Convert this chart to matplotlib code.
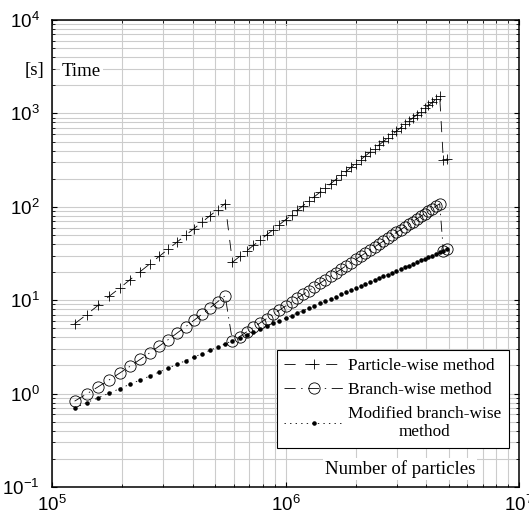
import numpy as np
import matplotlib
matplotlib.use('Agg')
import matplotlib.pyplot as plt
from matplotlib.font_manager import FontProperties

# number of particles (cubic lattices, 50^3 ... 170^3)
N = [125000, 140608, 157464, 175616, 195112, 216000, 238328, 262144, 287496,
     314432, 343000, 373248, 405224, 438976, 474552, 512000, 551368,
     592704, 636056, 681472, 729000, 778688, 830584, 884736, 941192,
     1000000, 1061208, 1124864, 1191016, 1259712, 1331000, 1404928, 1481544,
     1560896, 1643032, 1728000, 1815848, 1906624, 2000376, 2097152, 2197000,
     2299968, 2406104, 2515456, 2628072, 2744000, 2863288, 2985984, 3112136,
     3241792, 3375000, 3511808, 3652264, 3796416, 3944312, 4096000, 4251528,
     4410944, 4574296,
     4741632, 4913000]

# computation time [s]
t_particle = [5.6, 7.0, 8.8, 11.0, 13.5, 16.6, 20.2, 24.4, 29.4, 35.2, 41.9,
              49.6, 58.4, 68.6, 80.1, 93.3, 108.2,
              25.5, 29.4, 33.7, 38.6, 44.0, 50.1, 56.8, 64.3, 72.6, 81.7,
              91.8, 103.0, 115.2, 128.6, 143.3, 159.3, 176.8, 196.0, 216.7,
              239.3, 263.8, 290.4, 319.2, 350.4, 383.9, 420.2, 459.3, 501.3,
              546.4, 595.0, 647.1, 703.0, 762.8, 826.6, 895.0, 968.0, 1046,
              1129, 1217, 1312, 1412, 1519,
              318, 325]

t_branch = [0.83, 0.99, 1.18, 1.40, 1.66, 1.96, 2.32, 2.73, 3.22, 3.78, 4.44,
            5.20, 6.08, 7.09, 8.27, 9.62, 11.16,
            3.63, 4.08, 4.58, 5.12, 5.71, 6.36, 7.06, 7.82, 8.65, 9.54,
            10.52, 11.56, 12.69, 13.91, 15.21, 16.61, 18.12, 19.72, 21.45,
            23.29, 25.25, 27.35, 29.58, 31.96, 34.47, 37.15, 40.00, 43.02,
            46.20, 49.61, 53.19, 56.95, 60.95, 65.16, 69.58, 74.27, 79.20,
            84.41, 89.85, 95.61, 101.6, 107.9,
            33.8, 35.0]

t_modified = [0.70, 0.80, 0.90, 1.01, 1.13, 1.26, 1.40, 1.54, 1.70, 1.87, 2.06,
              2.25, 2.46, 2.67, 2.91, 3.15, 3.41,
              3.68, 3.97, 4.27, 4.59, 4.93, 5.28, 5.64, 6.03, 6.43, 6.85,
              7.29, 7.75, 8.22, 8.72, 9.24, 9.77, 10.33, 10.91, 11.51,
              12.14, 12.79, 13.46, 14.15, 14.87, 15.61, 16.38, 17.18, 17.99,
              18.84, 19.72, 20.62, 21.55, 22.50, 23.49, 24.50, 25.55, 26.63,
              27.73, 28.87, 30.04, 31.23, 32.48,
              33.74, 35.04]

labels = ['Particle-wise method', 'Branch-wise method',
          'Modified branch-wise\nmethod']

plt.rcParams['font.family'] = 'Liberation Sans'
plt.rcParams['lines.scale_dashes'] = False
serif = FontProperties(family='Liberation Serif', size=13.5)
serif_leg = FontProperties(family='Liberation Serif', size=12.4)

fig = plt.figure(figsize=(5.29, 5.20), dpi=100)
ax = fig.add_axes([0.0983, 0.0635, 0.8828, 0.898])

ax.plot(N, t_particle, color='k', lw=0.6, ls=(0, (8, 7)),
        marker='+', ms=7.7, mew=0.6, label=labels[0])
ax.plot(N, t_branch, color='k', lw=0.6, ls=(0, (8, 4, 1, 4)),
        marker='o', ms=8.1, mew=0.6, mfc='none', label=labels[1])
ax.plot(N, t_modified, color='k', lw=0.6, ls=(0, (1, 3)),
        marker='.', ms=4.5, label=labels[2])

ax.set_xscale('log')
ax.set_yscale('log')
ax.set_xlim(1e5, 1e7)
ax.set_ylim(1e-1, 1e4)

ax.grid(True, which='both', color='#cccccc', lw=0.8, ls='-')
ax.set_axisbelow(True)
ax.tick_params(which='both', direction='in', top=True, right=True,
               labelsize=13.5, color='k')
ax.tick_params(which='major', length=3.5, width=0.8)
ax.tick_params(which='minor', length=2, width=0.6)
ax.tick_params(axis='x', pad=6)
ax.tick_params(axis='y', pad=9)
for s in ax.spines.values():
    s.set_linewidth(1.1)

leg = ax.legend(loc='lower right', bbox_to_anchor=(0.9786, 0.0835),
                prop=serif_leg, numpoints=1, handlelength=3.4,
                handletextpad=0.3, borderpad=0.45, labelspacing=0.45,
                fancybox=False, framealpha=1, edgecolor='k',
                borderaxespad=0)
leg.get_frame().set_linewidth(0.8)
for t in leg.get_texts():
    t.set_multialignment('center')

ax.text(0.021, 0.89, 'Time', transform=ax.transAxes, fontproperties=serif,
        ha='left', va='center',
        bbox=dict(facecolor='white', edgecolor='none', pad=1.5))
ax.text(0.745, 0.0385, 'Number of particles', transform=ax.transAxes,
        fontproperties=serif, ha='center', va='center',
        bbox=dict(facecolor='white', edgecolor='none', pad=1.5))
fig.text(34 / 529, 1 - 71 / 520, '[s]', fontproperties=serif,
         ha='center', va='center')

fig.savefig('out.png', dpi=100)
